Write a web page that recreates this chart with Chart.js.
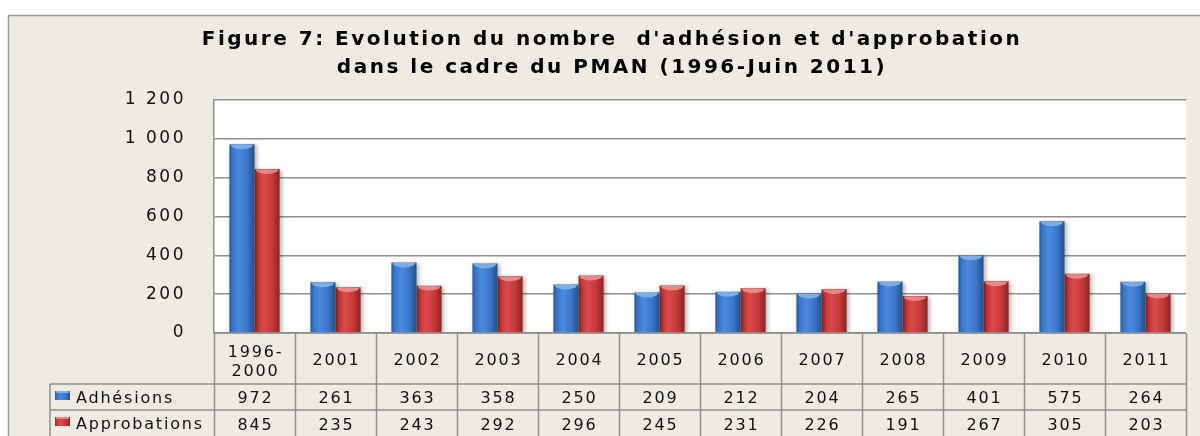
<!DOCTYPE html>
<html><head><meta charset="utf-8">
<script src="https://cdn.jsdelivr.net/npm/chart.js@4/dist/chart.umd.min.js"></script>
<style>html,body{margin:0;padding:0;background:#fff;}#wrap{width:1200px;height:436px;}</style>
</head><body><div id="wrap"><canvas id="c" width="1200" height="436"></canvas></div>
<script>
const categories = [['1996-','2000'],'2001','2002','2003','2004','2005','2006','2007','2008','2009','2010','2011'];
const seriesNames = ['Adhésions','Approbations'];
const adhesions = [972,261,363,358,250,209,212,204,265,401,575,264];
const approbations = [845,235,243,292,296,245,231,226,191,267,305,203];
const yTickLabels = {0:'0',200:'200',400:'400',600:'600',800:'800',1000:'1 000',1200:'1 200'};
const titleLines = ["Figure 7: Evolution du nombre  d'adhésion et d'approbation","dans le cadre du PMAN (1996-Juin 2011)"];

const BEIGE = '#edebe2';
const LINE = '#8f8f8f';
const palettes = [
  ['#2a5a9c','#3a78cc','#4b8ade','#3a76c8','#244e88'],
  ['#9c2a2a','#c93a3a','#da4b4b','#c43838','#8c2424']
];
const capColors = ['#79aee9','#ec8686'];

function gradFor(ctx, x0, x1, pal){
  const g = ctx.createLinearGradient(x0,0,x1,0);
  g.addColorStop(0,pal[0]); g.addColorStop(0.15,pal[1]); g.addColorStop(0.38,pal[2]);
  g.addColorStop(0.72,pal[3]); g.addColorStop(1,pal[4]);
  return g;
}

const bgPlugin = {
  id:'bg',
  beforeDraw(chart){
    const ctx = chart.ctx, ca = chart.chartArea;
    ctx.save();
    ctx.fillStyle='#fff'; ctx.fillRect(0,0,chart.width,chart.height);
    ctx.fillStyle=BEIGE; ctx.fillRect(8,15,chart.width-8,chart.height-15);
    ctx.strokeStyle='#9a9a9a'; ctx.lineWidth=1.5;
    ctx.beginPath(); ctx.moveTo(8.5,chart.height); ctx.lineTo(8.5,15.5); ctx.lineTo(chart.width,15.5); ctx.stroke();
    ctx.fillStyle='#fff'; ctx.fillRect(ca.left,ca.top,ca.right-ca.left,ca.bottom-ca.top);
    ctx.restore();
    ctx.letterSpacing='2.5px';
  },
  beforeDatasetsDraw(chart){
    const ctx = chart.ctx;
    chart.data.datasets.forEach((ds,di)=>{
      chart.getDatasetMeta(di).data.forEach(el=>{
        const x0 = el.x-el.width/2, x1 = el.x+el.width/2;
        el.options.backgroundColor = gradFor(ctx,x0,x1,palettes[di]);
      });
    });
    ctx.save();
    ctx.shadowColor='rgba(0,0,0,0.28)'; ctx.shadowBlur=4; ctx.shadowOffsetX=2; ctx.shadowOffsetY=1;
  },
  afterDatasetsDraw(chart){
    const ctx = chart.ctx;
    ctx.restore();
    ctx.save();
    chart.data.datasets.forEach((ds,di)=>{
      chart.getDatasetMeta(di).data.forEach(el=>{
        const w = el.width;
        ctx.fillStyle = capColors[di];
        ctx.beginPath();
        ctx.moveTo(el.x-w/2+1, el.y+0.5);
        ctx.lineTo(el.x+w/2-1, el.y+0.5);
        ctx.lineTo(el.x+w/2-3, el.y+3);
        ctx.quadraticCurveTo(el.x, el.y+7, el.x-w/2+3, el.y+3);
        ctx.closePath(); ctx.fill();
      });
    });
    ctx.restore();
  },
  afterDraw(chart){
    const ctx = chart.ctx, ca = chart.chartArea, xs = chart.scales.x;
    const n = categories.length, cw = xs.width/n;
    const r0 = ca.bottom, r1 = 384, r2 = 410, r3 = chart.height;
    ctx.save();
    ctx.letterSpacing='1.8px';
    ctx.strokeStyle=LINE; ctx.lineWidth=1.5;
    ctx.beginPath();
    ctx.moveTo(ca.left,r0); ctx.lineTo(ca.right,r0);
    ctx.moveTo(50,r1); ctx.lineTo(ca.right,r1);
    ctx.moveTo(50,r2); ctx.lineTo(ca.right,r2);
    ctx.moveTo(50,r1); ctx.lineTo(50,r3);
    for(let i=0;i<=n;i++){ const x = Math.round(xs.left+i*cw)+0.5; ctx.moveTo(x,r0); ctx.lineTo(x,r3); }
    ctx.stroke();
    ctx.fillStyle='#111'; ctx.font='16px "DejaVu Sans"'; ctx.textAlign='center'; ctx.textBaseline='alphabetic';
    categories.forEach((c,i)=>{
      const x = xs.getPixelForValue(i)+1;
      if(Array.isArray(c)){ ctx.fillText(c[0],x,357); ctx.fillText(c[1],x,376); }
      else ctx.fillText(c,x,365);
      ctx.fillText(String(adhesions[i]),x,403);
      ctx.fillText(String(approbations[i]),x,430);
    });
    ctx.textAlign='left';
    ctx.fillText(seriesNames[0],76,403);
    ctx.fillText(seriesNames[1],76,429);
    [[391,0],[417,1]].forEach(([y,di])=>{
      ctx.fillStyle = gradFor(ctx,55,70,palettes[di]);
      ctx.fillRect(55,y,15,9);
      ctx.fillStyle = capColors[di]; ctx.fillRect(56,y,13,2);
    });
    ctx.restore();
  }
};

new Chart(document.getElementById('c'),{
  type:'bar',
  data:{
    labels: categories,
    datasets:[
      {label:seriesNames[0], data:adhesions, backgroundColor:(c)=>palettes[0][1], borderWidth:0, categoryPercentage:0.62, barPercentage:1.0},
      {label:seriesNames[1], data:approbations, backgroundColor:(c)=>palettes[1][1], borderWidth:0, categoryPercentage:0.62, barPercentage:1.0}
    ]
  },
  options:{
    responsive:false, animation:false, devicePixelRatio:1,
    layout:{padding:{left:38,right:14,top:15,bottom:103}},
    plugins:{
      legend:{display:false}, tooltip:{enabled:false},
      title:{display:true, text:titleLines, color:'#000',
        font:{family:'"DejaVu Sans"', size:20, weight:'bold', lineHeight:1.4},
        padding:{top:11,bottom:18}}
    },
    scales:{
      x:{display:false},
      y:{min:0,max:1200,
        afterFit(s){ s.width = 176; },
        ticks:{stepSize:200, padding:28, color:'#111', font:{family:'"DejaVu Sans"', size:17},
          callback:(v)=>yTickLabels[v]},
        grid:{color:LINE, lineWidth:1.5, drawTicks:false},
        border:{display:true,color:LINE,width:1.5}
      }
    }
  },
  plugins:[bgPlugin]
});
</script></body></html>
